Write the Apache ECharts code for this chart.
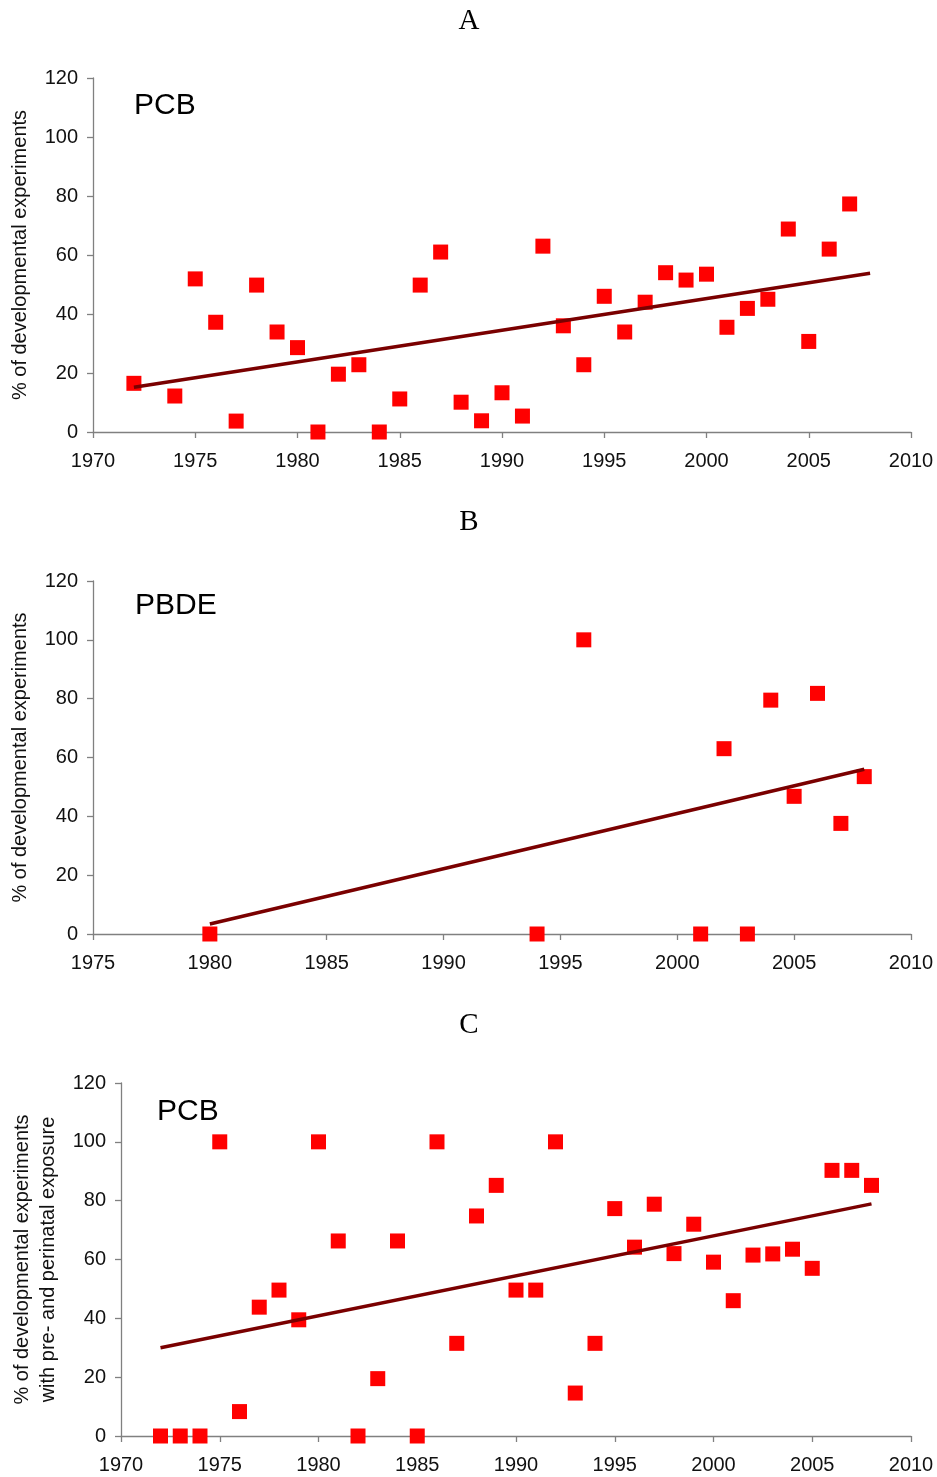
<!DOCTYPE html>
<html>
<head>
<meta charset="utf-8">
<script src="https://cdn.jsdelivr.net/npm/echarts@6/dist/echarts.min.js"></script>
<style>
html,body{margin:0;padding:0;background:#fff;}
#chart{width:937px;height:1477px;}
</style>
</head>
<body>
<div id="chart"></div>
<script>
// Panel A: PCB
var yearsA = [1972,1974,1975,1976,1977,1978,1979,1980,1981,1982,1983,1984,1985,1986,1987,1988,1989,1990,1991,1992,1993,1994,1995,1996,1997,1998,1999,2000,2001,2002,2003,2004,2005,2006,2007];
var valuesA = [16.5,12.2,51.9,37.2,3.7,49.8,33.9,28.6,0,19.6,22.8,0,11.2,49.8,61,10.1,3.8,13.3,5.4,63,36,22.8,46,33.9,44,54,51.5,53.5,35.5,41.9,45,68.8,30.7,62,77.3];
var trendYearsA = [1972, 2008];
var trendValuesA = [15.2, 53.8];

// Panel B: PBDE
var yearsB = [1980,1994,1996,2001,2002,2003,2004,2005,2006,2007,2008];
var valuesB = [0,0,100,0,63,0,79.5,46.8,81.8,37.6,53.5];
var trendYearsB = [1980, 2008];
var trendValuesB = [3.4, 56];

// Panel C: PCB, pre- and perinatal exposure
var yearsC = [1972,1973,1974,1975,1976,1977,1978,1979,1980,1981,1982,1983,1984,1985,1986,1987,1988,1989,1990,1991,1992,1993,1994,1995,1996,1997,1998,1999,2000,2001,2002,2003,2004,2005,2006,2007,2008];
var valuesC = [0,0,0,100,8.3,43.8,49.6,39.5,100,66.3,0,19.5,66.3,0,100,31.5,74.8,85.2,49.6,49.6,100,14.6,31.5,77.3,64.2,78.8,62,72,59.1,46,61.5,61.9,63.5,57,90.3,90.3,85.2];
var trendYearsC = [1972, 2008];
var trendValuesC = [30, 78.9];

var xTicksA = [1970, 2010, 5];
var xTicksB = [1975, 2010, 5];
var yTicks = [0, 120, 20];

var panelTitles = ['A', 'B', 'C'];
var panelLabels = ['PCB', 'PBDE', 'PCB'];
var yNames = ['% of developmental experiments', '% of developmental experiments', '% of developmental experiments\nwith pre- and perinatal exposure'];

function zip(xs, ys){ return xs.map(function(x,i){ return [x, ys[i]]; }); }

var chart = echarts.init(document.getElementById('chart'), null, {renderer:'canvas'});

var grids = [
  {left:93, top:78, width:818, height:354},
  {left:93, top:581, width:818, height:353},
  {left:121, top:1083, width:790, height:353}
].map(function(g){ g.containLabel = false; g.outerBoundsMode = 'none'; return g; });
var xRanges = [xTicksA, xTicksB, xTicksA];
var nameGaps = [58, 58, 58];

var axisLineStyle = {color:'#808080', width:1.3};
var labelFont = {color:'#111', fontSize:20, fontFamily:'Liberation Sans, Arial, sans-serif'};

var xAxes = [], yAxes = [], series = [];
var datasets = [[yearsA, valuesA, trendYearsA, trendValuesA],[yearsB, valuesB, trendYearsB, trendValuesB],[yearsC, valuesC, trendYearsC, trendValuesC]];

for (var i=0;i<3;i++){
  xAxes.push({
    type:'value', gridIndex:i, min:xRanges[i][0], max:xRanges[i][1], interval:xRanges[i][2],
    splitLine:{show:false},
    axisLine:{show:true, lineStyle:axisLineStyle},
    axisTick:{show:true, inside:false, length:6, lineStyle:axisLineStyle},
    axisLabel:Object.assign({margin:19, showMinLabel:true, showMaxLabel:true, hideOverlap:false,
      formatter:function(v){ return String(v); }}, labelFont)
  });
  yAxes.push({
    type:'value', gridIndex:i, min:yTicks[0], max:yTicks[1], interval:yTicks[2],
    splitLine:{show:false},
    axisLine:{show:true, lineStyle:axisLineStyle},
    axisTick:{show:true, inside:false, length:6, lineStyle:axisLineStyle},
    axisLabel:Object.assign({margin:15, formatter:function(v){ return String(v); }}, labelFont),
    name:yNames[i], nameLocation:'middle', nameGap:nameGaps[i], nameRotate:90,
    nameTextStyle:{color:'#111', fontSize:20, fontFamily:'Liberation Sans, Arial, sans-serif', lineHeight:26}
  });
  var d = datasets[i];
  series.push({
    type:'scatter', xAxisIndex:i, yAxisIndex:i, symbol:'rect', symbolSize:15,
    itemStyle:{color:'#ff0000', opacity:1}, data:zip(d[0], d[1]), z:2, silent:true
  });
  series.push({
    type:'line', xAxisIndex:i, yAxisIndex:i, showSymbol:false, symbol:'none',
    lineStyle:{color:'#7a0000', width:3.5}, data:zip(d[2], d[3]), z:3, silent:true
  });
}

var graphics = [
  {x:469, y:21, t:panelTitles[0], serif:true},
  {x:469, y:522, t:panelTitles[1], serif:true},
  {x:469, y:1025, t:panelTitles[2], serif:true},
  {x:134, y:106, t:panelLabels[0], serif:false},
  {x:135, y:606, t:panelLabels[1], serif:false},
  {x:157, y:1112, t:panelLabels[2], serif:false}
].map(function(g){
  return {type:'text', x:g.x, y:g.y, silent:true,
    style:{text:g.t, fill:'#000',
      font: g.serif ? '29px "Liberation Serif", "Times New Roman", serif' : '30px "Liberation Sans", Arial, sans-serif',
      textAlign: g.serif ? 'center' : 'left', textVerticalAlign:'middle'}};
});

chart.setOption({
  animation:false,
  backgroundColor:'#ffffff',
  grid:grids,
  xAxis:xAxes,
  yAxis:yAxes,
  series:series,
  graphic:graphics
});
</script>
</body>
</html>
